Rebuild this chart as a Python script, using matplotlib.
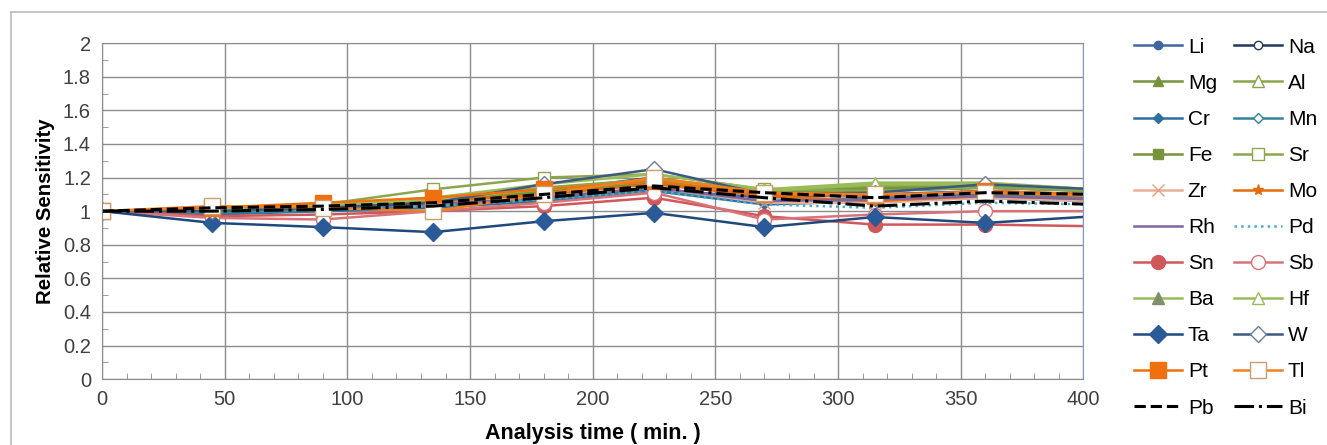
import matplotlib
matplotlib.use("Agg")
import matplotlib.pyplot as plt
from matplotlib.lines import Line2D
from matplotlib.ticker import MultipleLocator, FuncFormatter

plt.rcParams['font.family'] = ['Liberation Sans', 'DejaVu Sans']

times = [0, 45, 90, 135, 180, 225, 270, 315, 360, 405]

names = ["Li", "Na", "Mg", "Al", "Cr", "Mn", "Fe", "Sr", "Zr", "Mo", "Rh", "Pd",
         "Sn", "Sb", "Ba", "Hf", "Ta", "W", "Pt", "Tl", "Pb", "Bi"]

Li = [1, 0.99, 1.01, 1.03, 1.08, 1.13, 1.08, 1.10, 1.12, 1.10]
Na = [1, 1.00, 1.02, 1.04, 1.12, 1.20, 1.09, 1.12, 1.14, 1.12]
Mg = [1, 1.01, 1.03, 1.06, 1.12, 1.17, 1.12, 1.14, 1.15, 1.12]
Al = [1, 1.01, 1.04, 1.07, 1.14, 1.19, 1.13, 1.15, 1.16, 1.13]
Cr = [1, 0.98, 1.00, 1.02, 1.06, 1.12, 1.04, 1.06, 1.08, 1.06]
Mn = [1, 0.99, 1.00, 1.03, 1.07, 1.12, 1.06, 1.08, 1.10, 1.08]
Fe = [1, 1.00, 1.03, 1.05, 1.11, 1.17, 1.11, 1.13, 1.14, 1.12]
Sr = [1, 1.02, 1.04, 1.13, 1.20, 1.22, 1.13, 1.12, 1.14, 1.12]
Zr = [1, 1.00, 1.02, 1.04, 1.09, 1.14, 1.05, 1.05, 1.08, 1.06]
Mo = [1, 1.01, 1.03, 1.06, 1.10, 1.16, 1.09, 1.06, 1.09, 1.07]
Rh = [1, 1.00, 1.02, 1.04, 1.08, 1.14, 1.06, 1.07, 1.09, 1.07]
Pd = [1, 1.00, 1.01, 1.03, 1.07, 1.12, 1.04, 1.02, 1.05, 1.04]
Sn = [1, 0.97, 0.98, 1.00, 1.03, 1.08, 0.97, 0.92, 0.92, 0.91]
Sb = [1, 0.96, 0.95, 1.00, 1.05, 1.11, 0.95, 0.98, 1.00, 1.00]
Ba = [1, 1.01, 1.03, 1.07, 1.13, 1.18, 1.12, 1.16, 1.16, 1.13]
Hf = [1, 1.01, 1.04, 1.08, 1.16, 1.22, 1.13, 1.17, 1.17, 1.13]
Ta = [1, 0.93, 0.905, 0.875, 0.94, 0.99, 0.905, 0.965, 0.93, 0.97]
W  = [1, 1.00, 1.02, 1.05, 1.16, 1.25, 1.10, 1.11, 1.16, 1.13]
Pt = [1, 1.02, 1.05, 1.08, 1.13, 1.18, 1.10, 1.09, 1.12, 1.10]
Tl = [1, 1.03, 1.02, 1.00, 1.10, 1.20, 1.11, 1.10, 1.11, 1.09]
Pb = [1, 1.02, 1.03, 1.05, 1.10, 1.15, 1.11, 1.08, 1.11, 1.10]
Bi = [1, 1.00, 1.01, 1.03, 1.08, 1.14, 1.08, 1.03, 1.06, 1.04]

values = [Li, Na, Mg, Al, Cr, Mn, Fe, Sr, Zr, Mo, Rh, Pd,
          Sn, Sb, Ba, Hf, Ta, W, Pt, Tl, Pb, Bi]

# style: (color, linestyle, marker, markersize, markerfacecolor, markeredgecolor)
styles = {
    "Li": ("#3F66A0", "-", "o", 6, "#3F66A0", "#3F66A0"),
    "Na": ("#1F3A5C", "-", "o", 6, "white", "#1F3A5C"),
    "Mg": ("#77933C", "-", "^", 7, "#77933C", "#77933C"),
    "Al": ("#8AA64A", "-", "^", 8, "white", "#8AA64A"),
    "Cr": ("#2E6E9E", "-", "D", 5, "#2E6E9E", "#2E6E9E"),
    "Mn": ("#31849B", "-", "D", 5, "white", "#31849B"),
    "Fe": ("#77933C", "-", "s", 7, "#77933C", "#77933C"),
    "Sr": ("#8CA64E", "-", "s", 9, "white", "#8CA64E"),
    "Zr": ("#E6B097", "-", "x", 8, "#E6A080", "#E6A080"),
    "Mo": ("#E46C0A", "-", "*", 8, "#E46C0A", "#E46C0A"),
    "Rh": ("#8064A2", "-", "None", 0, "#8064A2", "#8064A2"),
    "Pd": ("#4BACC6", ":", "None", 0, "#4BACC6", "#4BACC6"),
    "Sn": ("#D0575A", "-", "o", 10, "#D0575A", "#D0575A"),
    "Sb": ("#D9737A", "-", "o", 10, "white", "#D9737A"),
    "Ba": ("#9BBB59", "-", "^", 8, "#7F8F6A", "#7F8F6A"),
    "Hf": ("#9BBB59", "-", "^", 9, "white", "#9BBB59"),
    "Ta": ("#1F497D", "-", "D", 9, "#2A5A98", "#2A5A98"),
    "W":  ("#3C5A80", "-", "D", 8, "white", "#6A7FA0"),
    "Pt": ("#F07010", "-", "s", 11, "#F07010", "#F07010"),
    "Tl": ("#F08020", "-", "s", 12, "white", "#C8A070"),
    "Pb": ("black", "--", "None", 0, "black", "black"),
    "Bi": ("black", "-.", "None", 0, "black", "black"),
}

fig = plt.figure(figsize=(13.27, 4.45), dpi=100)
ax = fig.add_axes([0.0769, 0.148, 0.7395, 0.755])

for name, vals in zip(names, values):
    c, ls, mk, ms, mfc, mec = styles[name]
    lw = 2.2 if name in ("Pb", "Bi") else 1.8
    ax.plot(times, vals, color=c, linestyle=ls, marker=mk, markersize=ms,
            markerfacecolor=mfc, markeredgecolor=mec, linewidth=lw,
            label=name, clip_on=True)

ax.set_xlim(0, 400)
ax.set_ylim(0, 2)
ax.xaxis.set_major_locator(MultipleLocator(50))
ax.xaxis.set_minor_locator(MultipleLocator(10))
ax.yaxis.set_major_locator(MultipleLocator(0.2))
ax.yaxis.set_minor_locator(MultipleLocator(0.1))
ax.grid(True, which="major", color="#8C8C8C", linewidth=1.0)
ax.set_axisbelow(True)
ax.tick_params(which="major", length=0, labelsize=14.5, colors="#404040", pad=8)
ax.tick_params(which="minor", direction="in", length=4, color="#8C8C8C")
for sp in ax.spines.values():
    sp.set_color("#8C8C8C")
ax.spines["right"].set_color("#7F9FCF")

ax.yaxis.set_major_formatter(FuncFormatter(lambda v, p: ("%g" % round(v, 1))))

ax.set_ylabel("Relative Sensitivity", fontsize=14.7, fontweight="bold", labelpad=6)
ax.set_xlabel("Analysis time ( min. )", fontsize=15.5, fontweight="bold")
ax.xaxis.set_label_coords(0.5, -0.13)

handles, labels = ax.get_legend_handles_labels()
left = handles[0::2]
right = handles[1::2]
lleft = labels[0::2]
lright = labels[1::2]
leg = fig.legend(left + right, lleft + lright, ncol=2, loc="upper left",
                 bbox_to_anchor=(0.848, 0.934), frameon=False, fontsize=15,
                 handlelength=2.3, handletextpad=0.3, columnspacing=0.8,
                 labelspacing=0.82, borderaxespad=0)

# outer frame lines (top and left)
fig.add_artist(Line2D([0.0083, 1.0], [0.973, 0.973], color="#BBBBBB", linewidth=1.2,
                      transform=fig.transFigure))
fig.add_artist(Line2D([0.0083, 0.0083], [0.0, 0.973], color="#BBBBBB", linewidth=1.2,
                      transform=fig.transFigure))

fig.savefig("out.png", dpi=100)
